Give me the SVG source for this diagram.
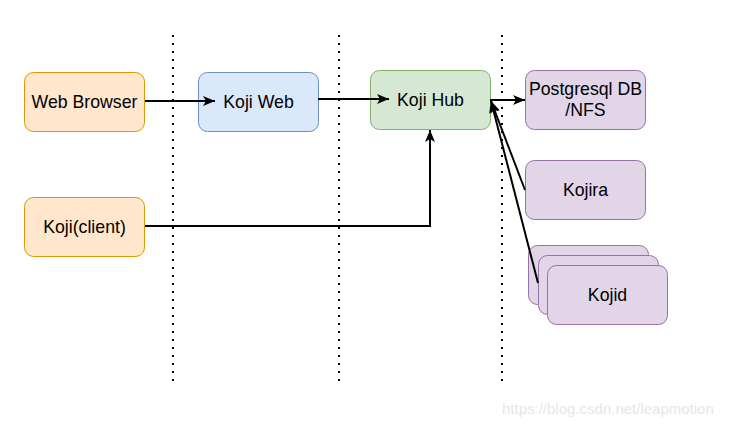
<svg xmlns="http://www.w3.org/2000/svg" width="734" height="427" viewBox="0 0 734 427">
<style>
.t{font-family:"Liberation Sans",Arial,sans-serif;font-size:17.7px;fill:#000;text-anchor:middle}
.o{fill:#ffe6cc;stroke:#d79b00}
.b{fill:#dae8fc;stroke:#6c8ebf}
.g{fill:#d5e8d4;stroke:#82b366}
.p{fill:#e1d5e7;stroke:#9673a6}
.e{fill:none;stroke:#000;stroke-width:2}
.d{fill:none;stroke:#000;stroke-width:2;stroke-dasharray:2 6}
</style>
<defs>
<marker id="ah" viewBox="-13 -6 14 12" refX="0" refY="0" markerWidth="14" markerHeight="12" markerUnits="userSpaceOnUse" orient="auto">
<path d="M0,0 L-12,-5 L-9,0 L-12,5 Z" fill="#000"/>
</marker>
</defs>
<rect width="734" height="427" fill="#fff"/>
<g id="separators">
<line class="d" x1="173" y1="35" x2="173" y2="381"/>
<line class="d" x1="339" y1="35" x2="339" y2="381"/>
<line class="d" x1="502" y1="35" x2="502" y2="381"/>
</g>
<g id="web-browser"><rect class="o" x="24.5" y="72.5" width="120" height="59" rx="9"/><text class="t" x="84.5" y="108">Web Browser</text></g>
<g id="koji-web"><rect class="b" x="198.5" y="72.5" width="120" height="59" rx="9"/><text class="t" x="258.5" y="108">Koji Web</text></g>
<g id="koji-hub"><rect class="g" x="370.5" y="70.5" width="120" height="59" rx="9"/><text class="t" x="430.5" y="106">Koji Hub</text></g>
<g id="postgres"><rect class="p" x="525.5" y="70.5" width="120" height="59" rx="9"/><text class="t" x="585.5" y="95">Postgresql DB</text><text class="t" x="585.5" y="116">/NFS</text></g>
<g id="kojira"><rect class="p" x="525.5" y="160.5" width="120" height="59" rx="9"/><text class="t" x="585.5" y="196">Kojira</text></g>
<g id="koji-client"><rect class="o" x="24.5" y="197.5" width="120" height="59" rx="9"/><text class="t" x="84.5" y="233">Koji(client)</text></g>
<g id="kojid">
<rect class="p" x="528.5" y="245.5" width="120" height="59" rx="9"/>
<rect class="p" x="538.5" y="255.5" width="120" height="59" rx="9"/>
<rect class="p" x="547.5" y="265.5" width="120" height="59" rx="9"/>
<text class="t" x="607.5" y="301">Kojid</text>
</g>
<g id="connectors">
<path class="e" d="M145,101 L215,101" marker-end="url(#ah)"/>
<path class="e" d="M318,99 L389,99" marker-end="url(#ah)"/>
<path class="e" d="M490,100 L525,100" marker-end="url(#ah)"/>
<path class="e" d="M145,226 L430,226 L430,130" marker-end="url(#ah)"/>
<path class="e" d="M525,190 L491,101" marker-end="url(#ah)"/>
<path class="e" d="M538,283 L491,101" marker-end="url(#ah)"/>
</g>
<text x="502" y="414" style="font-family:'Liberation Sans',Arial,sans-serif;font-size:15px;fill:#e6e6e6">https://blog.csdn.net/leapmotion</text>
</svg>
